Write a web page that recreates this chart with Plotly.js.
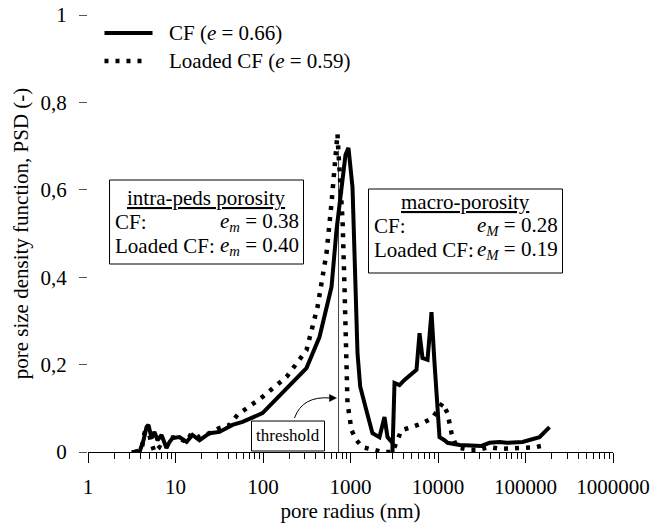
<!DOCTYPE html>
<html>
<head>
<meta charset="utf-8">
<script src="https://cdn.plot.ly/plotly-3.0.1.min.js"></script>
<style>html,body{margin:0;padding:0;background:#fff;}#chart{width:653px;height:530px;}</style>
</head>
<body>
<div id="chart"></div>
<script>
// ---- data (pore radius in nm, PSD values) ----
const cfRadius = [3.14, 3.88, 4.31, 4.66, 4.91, 5.32, 5.75, 6.23, 6.92, 7.89, 8.54, 9.25, 11.1, 13.4, 15.6, 18.8, 24.5, 31.8, 44.8, 58.3, 98.7, 167, 314, 442, 607, 692, 789, 877, 948, 1054, 1141, 1202, 1290, 1400, 1484, 1782, 2142, 2446, 2647, 3018, 3020, 3184, 3631, 4140, 4980, 5680, 6150, 6650, 7590, 8430, 9120, 9870, 10400, 11860, 12840, 17600, 22900, 31400, 38800, 50500, 60700, 78900, 92400, 144600, 188000];
const cfPSD    = [0, 0, 0.027, 0.057, 0.062, 0.032, 0.046, 0.027, 0.039, 0.009, 0.023, 0.032, 0.034, 0.023, 0.039, 0.027, 0.043, 0.046, 0.062, 0.069, 0.089, 0.137, 0.192, 0.263, 0.378, 0.508, 0.606, 0.680, 0.696, 0.606, 0.378, 0.227, 0.150, 0.118, 0.103, 0.043, 0.034, 0.080, 0.034, 0.021, 0, 0.158, 0.153, 0.165, 0.178, 0.188, 0.272, 0.215, 0.211, 0.320, 0.204, 0.089, 0.034, 0.027, 0.021, 0.016, 0.016, 0.014, 0.021, 0.023, 0.021, 0.023, 0.023, 0.034, 0.057];

const loadedRadius = [3.40, 4.09, 4.42, 4.79, 5.18, 5.75, 6.56, 7.48, 8.54, 10.3, 13.4, 15.2, 18.8, 24.5, 31.8, 41.4, 51.1, 98.7, 186, 314, 420, 532, 607, 657, 710, 729, 811, 854, 900, 924, 1026, 1171, 1371, 1782, 2320, 3020, 3830, 4980, 6650, 8650, 11250, 12840, 14270, 16260, 22900, 28300, 38800, 53200, 71000, 94900, 130000, 169000];
const loadedPSD    = [0, 0.005, 0.043, 0.062, 0.027, 0, 0.011, 0.005, 0.032, 0.034, 0.023, 0.043, 0.034, 0.043, 0.055, 0.062, 0.085, 0.126, 0.172, 0.233, 0.332, 0.455, 0.570, 0.668, 0.728, 0.684, 0.531, 0.378, 0.227, 0.112, 0.050, 0.027, 0.011, 0.005, 0, 0, 0.050, 0.057, 0.066, 0.078, 0.112, 0.089, 0.043, 0.011, 0.005, 0.005, 0.011, 0.007, 0.009, 0.009, 0.011, 0.016];

const seriesNames = ['CF (<i>e</i> = 0.66)', 'Loaded CF (<i>e</i> = 0.59)'];
const thresholdRadius = 730;
const thresholdTop = 0.69;

const xTickVals = [1, 10, 100, 1000, 10000, 100000, 1000000];
const xTickText = ['1', '10', '100', '1000', '10000', '100000', '1000000'];
const yTickVals = [0, 0.2, 0.4, 0.6, 0.8, 1];
const yTickText = ['0', '0,2', '0,4', '0,6', '0,8', '1'];

const intraTitle = 'intra-peds porosity';
const intraRows = [['CF:', '<i>e</i><sub><i>m</i></sub> = 0.38'], ['Loaded CF:', '<i>e</i><sub><i>m</i></sub> = 0.40']];
const macroTitle = 'macro-porosity';
const macroRows = [['CF:', '<i>e</i><sub><i>M</i></sub> = 0.28'], ['Loaded CF:', '<i>e</i><sub><i>M</i></sub> = 0.19']];

// minor ticks 2..9 per decade
const minorVals = [];
for (let d = 0; d < 6; d++) for (let k = 2; k <= 9; k++) minorVals.push(k * Math.pow(10, d));

const FONT = 'Liberation Serif, Times New Roman, serif';
const FS = 21;
const SOLID = {color: '#000', width: 4};
const DOTTED = {color: '#000', width: 4.5, dash: '4px,7px'};

const traces = [
  {x: cfRadius, y: cfPSD, name: seriesNames[0], mode: 'lines', cliponaxis: false, line: SOLID},
  {x: loadedRadius, y: loadedPSD, name: seriesNames[1], mode: 'lines', cliponaxis: false, line: DOTTED}
];

function box(x0, x1, y0, y1) {
  return {type: 'rect', xref: 'paper', yref: 'paper', x0: x0, x1: x1, y0: y0, y1: y1,
          line: {color: '#000', width: 1}, fillcolor: '#fff', layer: 'above'};
}
function txt(text, x, y, xanchor, size) {
  return {text: text, x: x, y: y, xref: 'paper', yref: 'paper', xanchor: xanchor, yanchor: 'middle',
          showarrow: false, font: {family: FONT, size: size || FS, color: '#000'}};
}

const annotations = [
  // legend
  txt(seriesNames[0], 0.1514, 0.9588, 'left'),
  txt(seriesNames[1], 0.1514, 0.8947, 'left'),
  // intra-peds box
  txt('<u>' + intraTitle + '</u>', 0.2257, 0.5812, 'center'),
  txt(intraRows[0][0], 0.0467, 0.5263, 'left'),
  txt(intraRows[0][1], 0.4048, 0.5263, 'right'),
  txt(intraRows[1][0], 0.0467, 0.4714, 'left'),
  txt(intraRows[1][1], 0.4048, 0.4714, 'right'),
  // macro box
  txt('<u>' + macroTitle + '</u>', 0.7190, 0.5721, 'center'),
  txt(macroRows[0][0], 0.540, 0.5172, 'left'),
  txt(macroRows[0][1], 0.8981, 0.5172, 'right'),
  txt(macroRows[1][0], 0.540, 0.4622, 'left'),
  txt(macroRows[1][1], 0.8981, 0.4622, 'right'),
  txt('threshold', 0.3805, 0.037, 'center', 17)
];

const shapes = [
  {type: 'line', xref: 'x', yref: 'y', x0: thresholdRadius, x1: thresholdRadius, y0: 0, y1: thresholdTop,
   line: {color: '#444', width: 1}, layer: 'below'},
  box(0.0410, 0.4105, 0.4302, 0.6224),
  box(0.5343, 0.9038, 0.4096, 0.6018),
  box(0.3114, 0.4505, 0.0023, 0.0709),
  {type: 'path', xref: 'paper', yref: 'paper', path: 'M0.3933,0.0778 Q0.4086,0.1290 0.4619,0.1236',
   line: {color: '#000', width: 1}},
  {type: 'path', xref: 'paper', yref: 'paper', path: 'M0.4733,0.1236 L0.4600,0.1316 L0.4600,0.1156 Z',
   line: {color: '#000', width: 0.5}, fillcolor: '#000'},
  // legend samples
  {type: 'line', xref: 'paper', yref: 'paper', x0: 0.0314, x1: 0.1229, y0: 0.9588, y1: 0.9588, line: SOLID},
  {type: 'line', xref: 'paper', yref: 'paper', x0: 0.0314, x1: 0.1100, y0: 0.8947, y1: 0.8947, line: DOTTED}
];

const layout = {
  width: 653, height: 530,
  margin: {l: 88, r: 40, t: 15, b: 78},
  paper_bgcolor: '#fff', plot_bgcolor: '#fff',
  font: {family: FONT, size: FS, color: '#000'},
  showlegend: false,
  xaxis: {type: 'log', range: [0, 6], tickmode: 'array', tickvals: xTickVals, ticktext: xTickText,
          ticks: 'outside', ticklen: 10, tickcolor: '#000', tickwidth: 1, ticklabelstandoff: 6,
          showline: true, linecolor: '#000', linewidth: 1, showgrid: false, zeroline: false,
          minor: {tickmode: 'array', tickvals: minorVals, ticks: 'outside', ticklen: 6, tickcolor: '#000', tickwidth: 1, showgrid: false},
          title: {text: 'pore radius (nm)', font: {family: FONT, size: FS}, standoff: 4},
          tickfont: {family: FONT, size: FS}},
  yaxis: {range: [0, 1], tickmode: 'array', tickvals: yTickVals, ticktext: yTickText,
          ticks: 'outside', ticklen: 8, tickcolor: '#555', ticklabelstandoff: 8,
          showline: false, showgrid: false, zeroline: false,
          title: {text: 'pore size density function, PSD (-)', font: {family: FONT, size: FS}, standoff: 6},
          tickfont: {family: FONT, size: FS}},
  shapes: shapes,
  annotations: annotations
};

Plotly.newPlot('chart', traces, layout, {staticPlot: true, displayModeBar: false});
</script>
</body>
</html>
